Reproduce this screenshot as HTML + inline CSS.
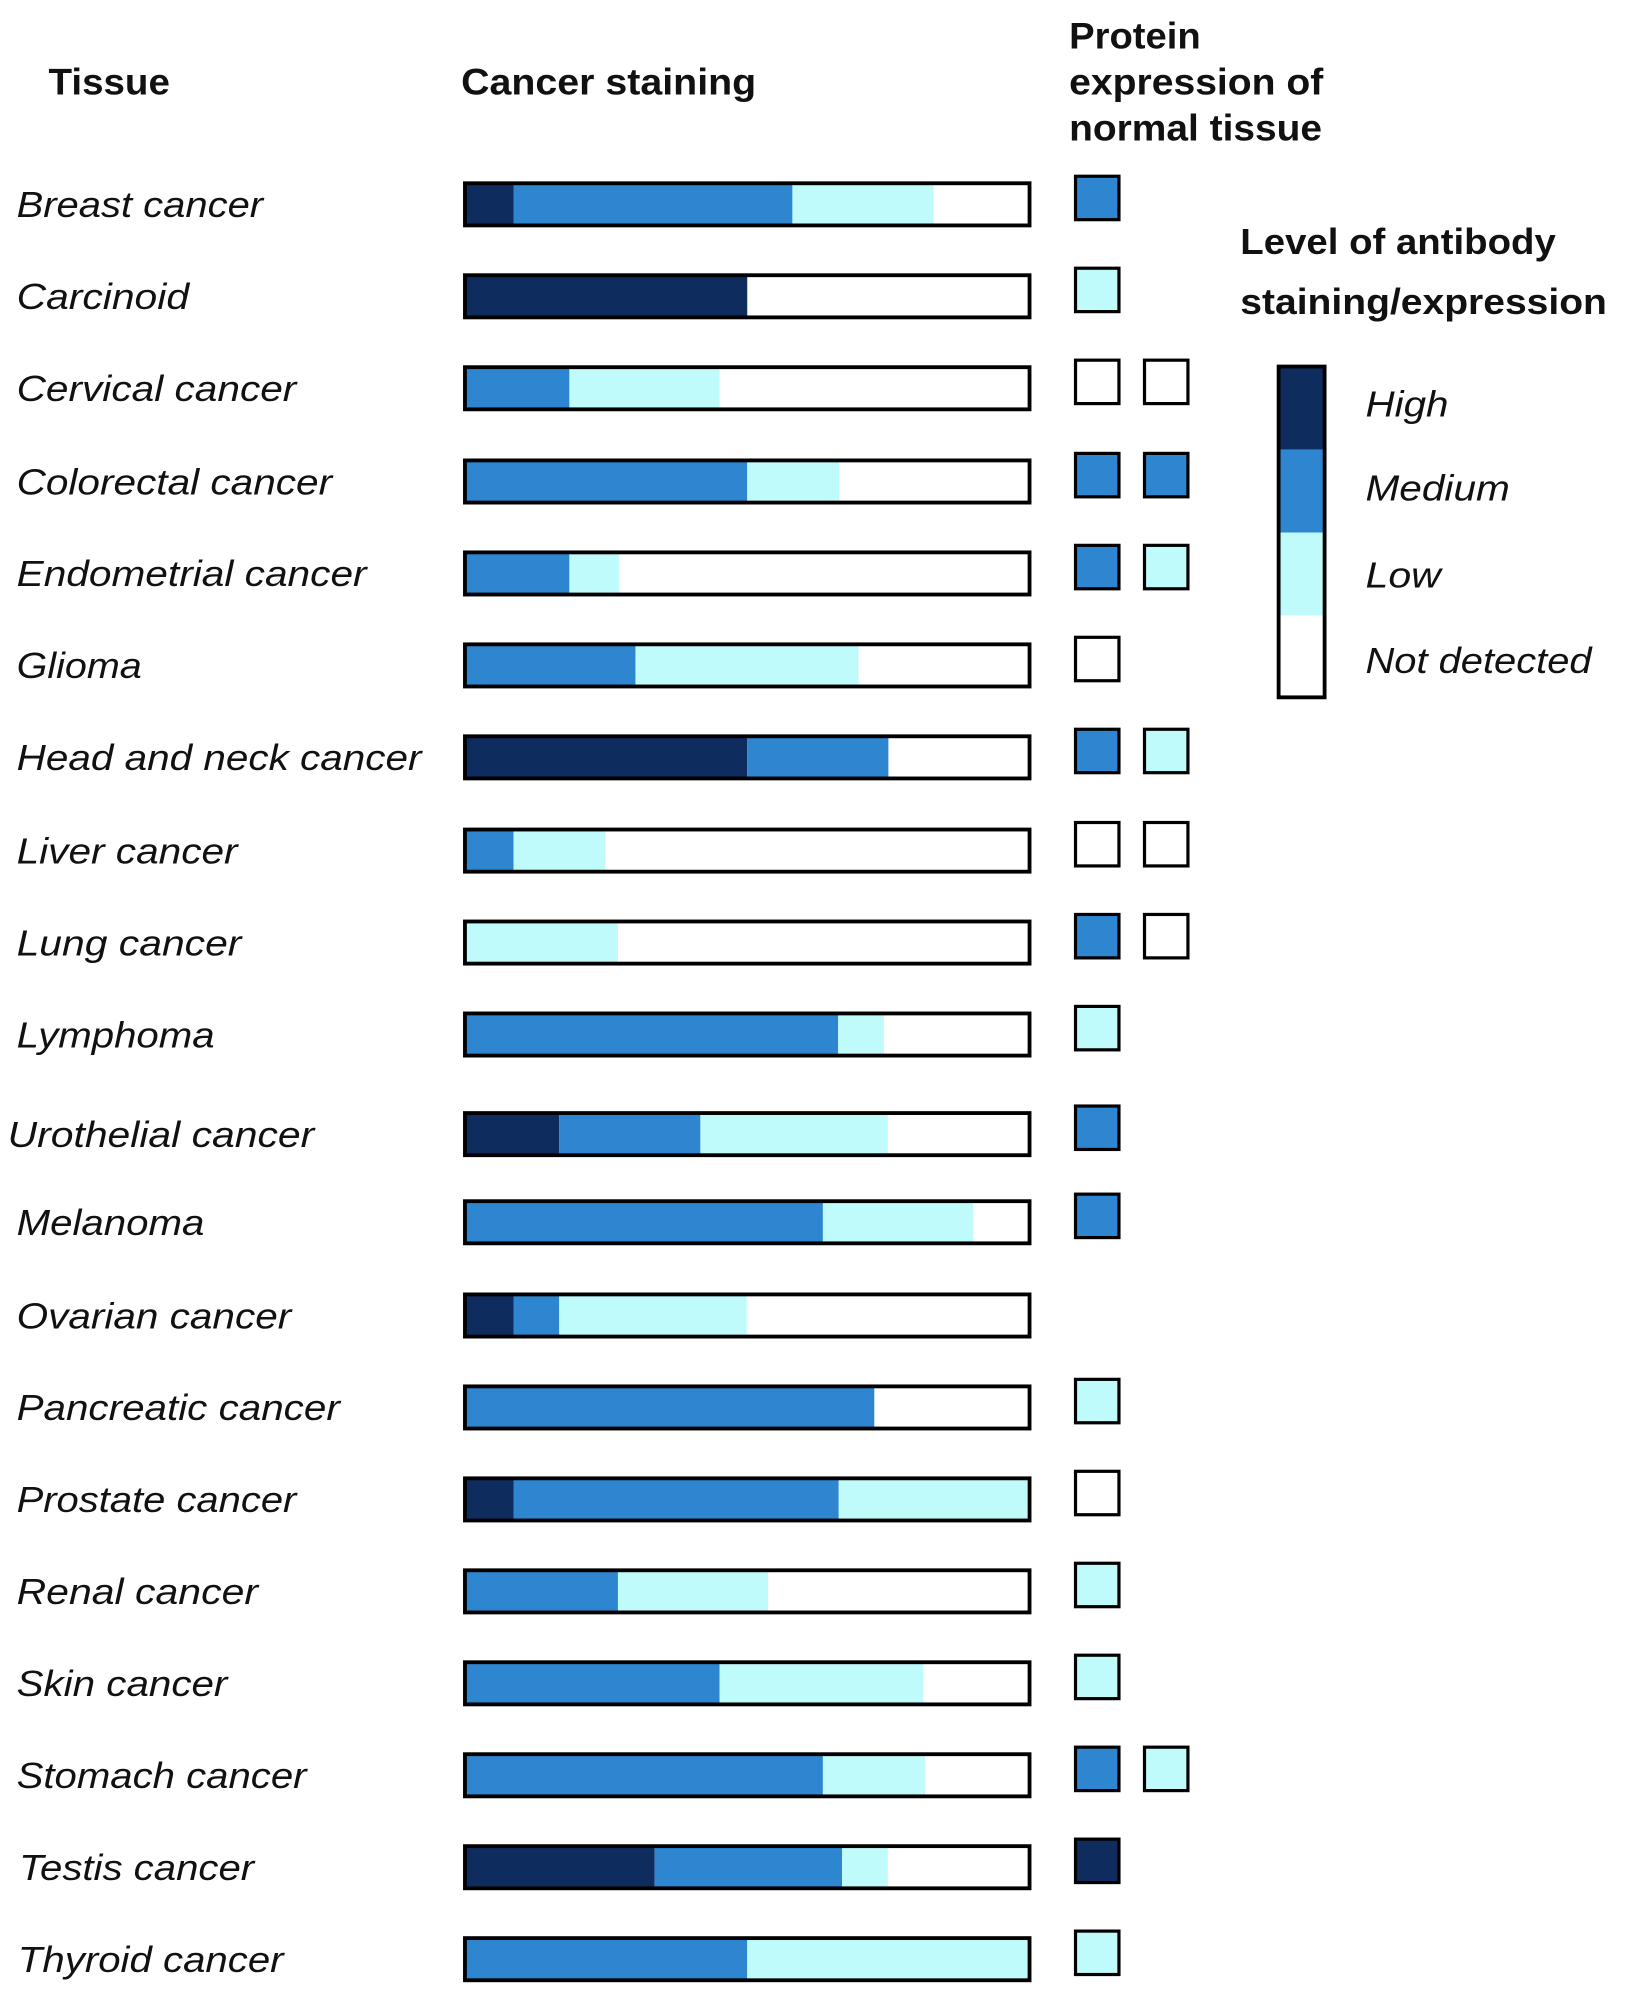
<!DOCTYPE html>
<html><head><meta charset="utf-8"><style>
html,body{margin:0;padding:0;background:#fff;}
svg{display:block;}
text{font-family:"Liberation Sans",Arial,sans-serif;}
</style></head><body>
<svg id="chart" width="1635" height="2009" viewBox="0 0 1280 1573" preserveAspectRatio="none" xmlns="http://www.w3.org/2000/svg">
<g font-weight="bold" font-size="29" fill="#111" lengthAdjust="spacingAndGlyphs">
<text x="38" y="74" textLength="95" lengthAdjust="spacingAndGlyphs">Tissue</text>
<text x="361" y="74" textLength="231" lengthAdjust="spacingAndGlyphs">Cancer staining</text>
<text x="837" y="38" textLength="103" lengthAdjust="spacingAndGlyphs">Protein</text>
<text x="837" y="74" textLength="199" lengthAdjust="spacingAndGlyphs">expression of</text>
<text x="837" y="110" textLength="198" lengthAdjust="spacingAndGlyphs">normal tissue</text>
</g>
<g id="rows"></g>
<g>
<text x="971" y="199" font-weight="bold" font-size="28" fill="#111" textLength="247" lengthAdjust="spacingAndGlyphs">Level of antibody</text>
<text x="971" y="246" font-weight="bold" font-size="28" fill="#111" textLength="287" lengthAdjust="spacingAndGlyphs">staining/expression</text>
<rect x="1001" y="287" width="36" height="65" fill="#0f2c5f"/>
<rect x="1001" y="352" width="36" height="65" fill="#2e86d0"/>
<rect x="1001" y="417" width="36" height="65" fill="#c0fbfc"/>
<rect x="1001" y="482" width="36" height="64" fill="#fff"/>
<rect x="1001" y="287" width="36" height="259" fill="none" stroke="#000" stroke-width="3"/>
<g font-style="italic" font-size="28" fill="#111">
<text x="1069" y="326" textLength="65" lengthAdjust="spacingAndGlyphs">High</text>
<text x="1069" y="392" textLength="113" lengthAdjust="spacingAndGlyphs">Medium</text>
<text x="1069" y="460" textLength="59" lengthAdjust="spacingAndGlyphs">Low</text>
<text x="1069" y="527" textLength="177" lengthAdjust="spacingAndGlyphs">Not detected</text>
</g>
</g>
</svg>
<script>
const tissues = ["Breast cancer","Carcinoid","Cervical cancer","Colorectal cancer","Endometrial cancer","Glioma","Head and neck cancer","Liver cancer","Lung cancer","Lymphoma","Urothelial cancer","Melanoma","Ovarian cancer","Pancreatic cancer","Prostate cancer","Renal cancer","Skin cancer","Stomach cancer","Testis cancer","Thyroid cancer"];
// percentage of patients per staining level
const highPct = [8.6,50,0,0,0,0,50,0,0,0,16.7,0,8.6,0,8.6,0,0,0,33.6,0];
const mediumPct = [49.4,0,18.5,50,18.5,30.2,25,8.6,0,66.1,25,63.4,8.1,72.5,57.6,27.1,45.1,63.4,33.2,50];
const lowPct = [25,0,26.6,16.3,8.8,39.5,0,16.3,27.1,8.1,33.2,26.6,33.2,0,33.4,26.6,36.1,18.1,8.1,50];
// normal tissue expression levels: H, M, L, N
const normalLevels = [["M"],["L"],["N","N"],["M","M"],["M","L"],["N"],["M","L"],["N","N"],["M","N"],["L"],["M"],["M"],[],["L"],["N"],["L"],["L"],["M","L"],["H"],["L"]];
const rowCenters = [160,232,304,377,449,521,593,666,738,810,888,957,1030,1102,1174,1246,1318,1390,1462,1534];
const labelStart = [13,13,13,13,13,13,13,13,13,13,6,13,13,13,13,13,13,13,15,14];
const labelEnd = [206,148,232,260,287,111,330,186,189,168,246,160,228,266,232,202,178,240,199,222];

const colors = {H:"#0f2c5f",M:"#2e86d0",L:"#c0fbfc",N:"#ffffff"};
const NS="http://www.w3.org/2000/svg";
const g=document.getElementById('rows');
const barX=364, barW=442, barH=33;
const xScale = p => p/100*barW;
function mk(tag, attrs){const e=document.createElementNS(NS,tag);for(const k in attrs)e.setAttribute(k,attrs[k]);return e;}
tissues.forEach((t,i)=>{
  const cy=rowCenters[i];
  const lbl=mk('text',{x:labelStart[i],y:cy+10,'font-size':28,'font-style':'italic',fill:'#111',textLength:labelEnd[i]-labelStart[i],lengthAdjust:'spacingAndGlyphs'});
  lbl.textContent=t;
  
  
  g.appendChild(lbl);
  let x=barX;
  const segs=[["H",highPct[i]],["M",mediumPct[i]],["L",lowPct[i]]];
  segs.forEach(([lv,p])=>{
    if(p<=0)return;
    const w=xScale(p);
    const r=mk('rect',{x:x,y:cy-barH/2,width:w,height:barH,fill:colors[lv]});
    
    
    g.appendChild(r);
    x+=w;
  });
  const b=mk('rect',{x:barX,y:cy-barH/2,width:barW,height:barH,fill:'none',stroke:'#000','stroke-width':3});
  
  
  g.appendChild(b);
  normalLevels[i].forEach((lv,j)=>{
    const s=mk('rect',{x:842+j*54,y:cy-22,width:34,height:34,fill:colors[lv],stroke:'#000','stroke-width':2.5});
    
    
    g.appendChild(s);
  });
});
</script>
</body></html>
